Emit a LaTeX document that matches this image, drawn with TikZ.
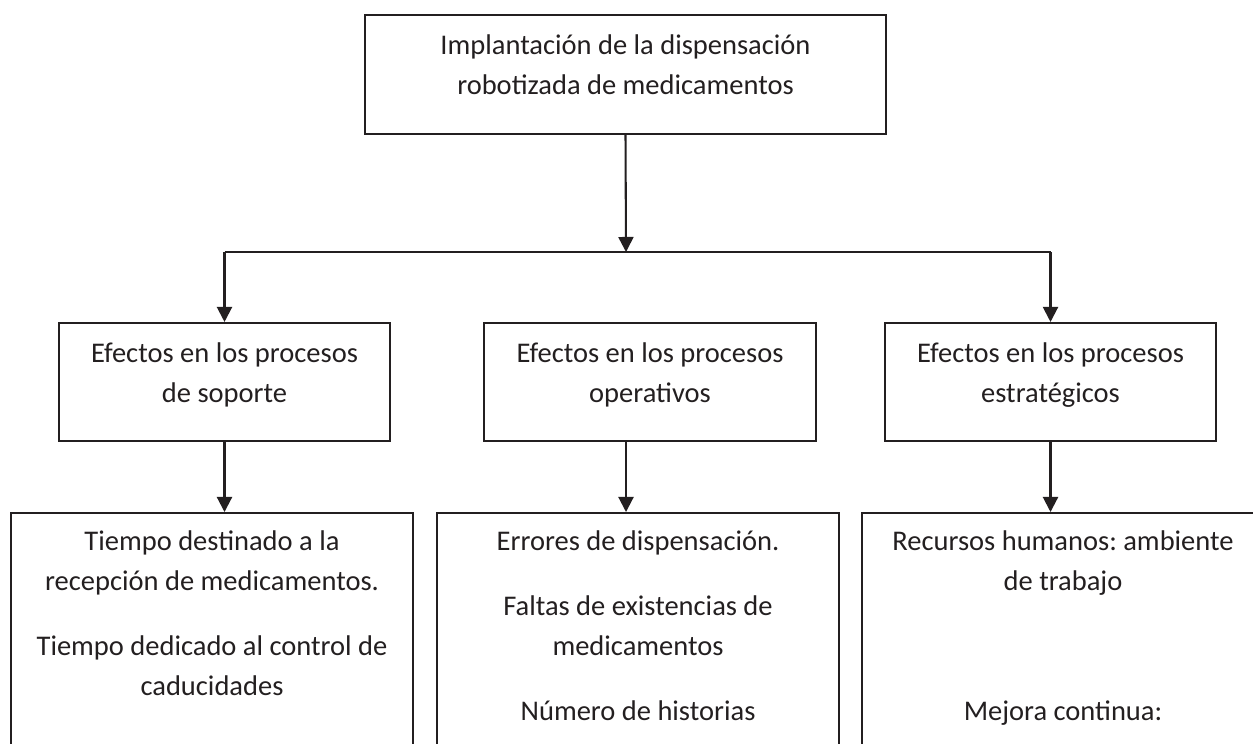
\documentclass[tikz,border=0pt]{standalone}
\usepackage{fontspec}
\setmainfont{Carlito}
\usetikzlibrary{arrows.meta}
\definecolor{ink}{HTML}{231F20}
\frenchspacing
\tikzset{
  box/.style={draw=ink, line width=0.8pt, rectangle, inner sep=0pt},
  txt/.style={anchor=north, inner sep=0pt, align=center, text=ink, font=\fontsize{11}{15.4}\selectfont},
  arr/.style={draw=ink, line width=0.8pt, -{Triangle[length=5.8pt,width=5.8pt]}},
}
\begin{document}
\begin{tikzpicture}[x=0.386pt,y=-0.386pt]
\useasboundingbox (0,0) rectangle (1253,743);
\clip (0,0) rectangle (1253,743);
% boxes
\node[box, minimum width=521*0.386pt, minimum height=119*0.386pt] (impl) at (625.5,74.5) {};
\node[box, minimum width=331*0.386pt, minimum height=118*0.386pt] (sop) at (224.5,382) {};
\node[box, minimum width=332*0.386pt, minimum height=118*0.386pt] (ope) at (650,382) {};
\node[box, minimum width=331*0.386pt, minimum height=118*0.386pt] (est) at (1050.5,382) {};
\node[box, anchor=north, minimum width=402*0.386pt, minimum height=400*0.386pt] (resL) at (212,512) {};
\node[box, anchor=north, minimum width=402*0.386pt, minimum height=400*0.386pt] (resM) at (638,512) {};
\node[box, anchor=north, minimum width=402*0.386pt, minimum height=400*0.386pt] (resR) at (1063,512) {};
% texts
\node[txt] (implT) at (625.5,26) {\strut Implantación de la dispensación\\robotizada de medicamentos};
\node[txt] (sopT) at (224.5,334) {\strut Efectos en los procesos\\de soporte};
\node[txt] (opeT) at (650,334) {\strut Efectos en los procesos\\operativos};
\node[txt] (estT) at (1050.5,334) {\strut Efectos en los procesos\\estratégicos};
\node[txt] (recep) at (212,522) {\strut Tiempo destinado a la\\recepción de medicamentos.};
\node[txt] (cadu) at (212,627) {\strut Tiempo dedicado al control de\\caducidades};
\node[txt] (errores) at (638,522) {\strut Errores de dispensación.};
\node[txt] (faltas) at (638,587) {\strut Faltas de existencias de\\medicamentos};
\node[txt] (historias) at (638,692) {\strut Número de historias};
\node[txt] (rrhh) at (1063,522) {\strut Recursos humanos: ambiente\\de trabajo};
\node[txt] (mejora) at (1063,692) {\strut Mejora continua:};
% connectors
\coordinate (fork) at (626,252);
\coordinate (forkL) at (224.5,252);
\coordinate (forkR) at (1050.5,252);
\draw[arr] (impl.south) -- (fork);
\draw[draw=ink, line width=0.8pt] (forkL) -- (forkR);
\draw[arr] (forkL) -- (sop.north);
\draw[arr] (forkR) -- (est.north);
\draw[arr] (sop.south) -- (sop.south |- resL.north);
\draw[arr] (ope.south -| fork) -- (fork |- resM.north);
\draw[arr] (est.south) -- (est.south |- resR.north);
\end{tikzpicture}
\end{document}
